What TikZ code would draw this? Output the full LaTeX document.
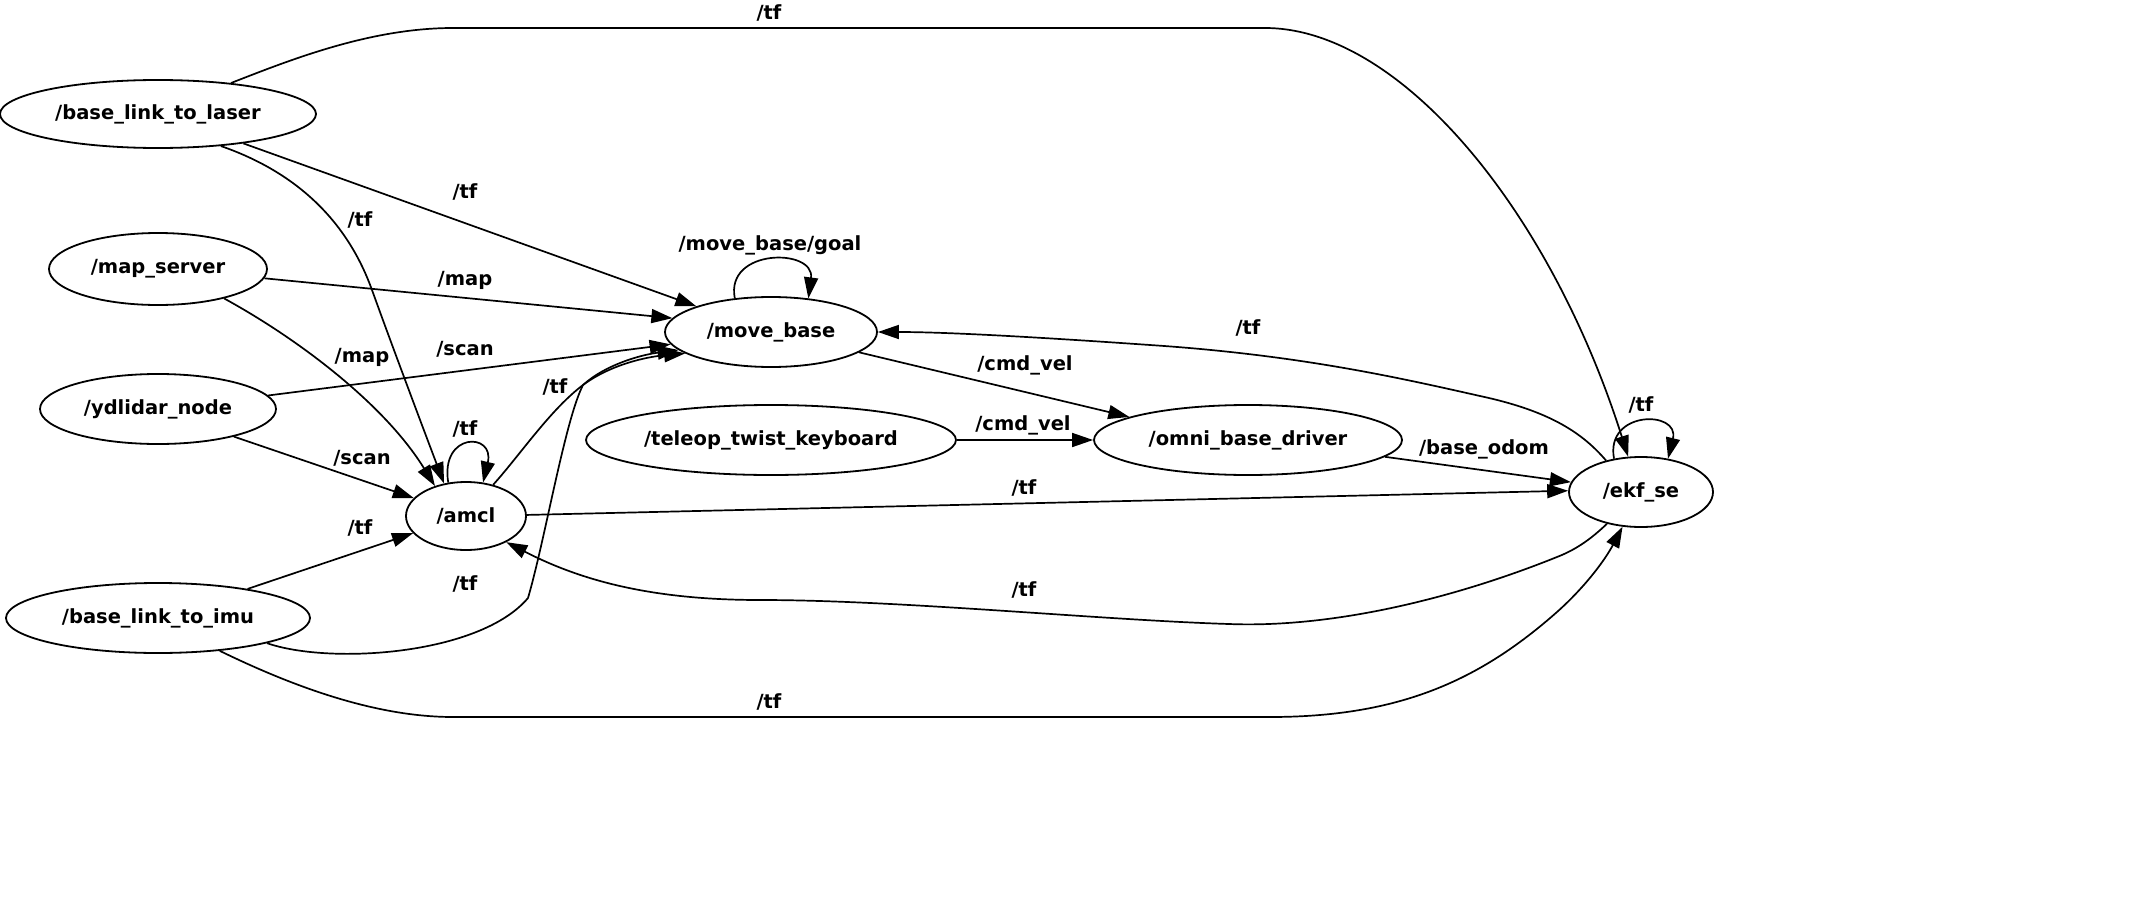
\documentclass[tikz,border=0pt]{standalone}
\usepackage{fontspec}
\setmainfont{DejaVu Sans}
\usetikzlibrary{arrows.meta,shapes.geometric}
\newcommand\gvfont{\fontsize{19.5}{23}\selectfont\bfseries}
\tikzset{
  nd/.style={ellipse, draw, line width=1.8pt, inner sep=0pt, font=\gvfont},
  lab/.style={inner sep=0pt, font=\gvfont},
  edge/.style={line width=1.7pt, -{Triangle[length=21pt,width=14pt]}}
}
\begin{document}
\begin{tikzpicture}[x=1pt,y=-1pt]
\useasboundingbox (0,0) rectangle (2142,899);
% nodes
\node[nd, minimum width=316pt, minimum height=68pt] (L) at (158,114) {/base\_link\_to\_laser};
\node[nd, minimum width=218pt, minimum height=72pt] (M) at (158,269) {/map\_server};
\node[nd, minimum width=236pt, minimum height=70pt] (Y) at (158,409) {/ydlidar\_node};
\node[nd, minimum width=304pt, minimum height=70pt] (I) at (158,618) {/base\_link\_to\_imu};
\node[nd, minimum width=120pt, minimum height=68pt] (A) at (466,516) {/amcl};
\node[nd, minimum width=212pt, minimum height=70pt] (B) at (771,332) {/move\_base};
\node[nd, minimum width=370pt, minimum height=70pt] (T) at (771,440) {/teleop\_twist\_keyboard};
\node[nd, minimum width=308pt, minimum height=70pt] (O) at (1248,440) {/omni\_base\_driver};
\node[nd, minimum width=144pt, minimum height=70pt] (E) at (1641,492) {/ekf\_se};
% edges
\draw[edge] (L.23) .. controls (290,60) and (370,28) .. (453,28) -- (1265,28) .. controls (1400,28) and (1550,210) .. (E.110);
\draw[edge] (L.-27) .. controls (290,170) and (345,215) .. (372,290) .. controls (390,340) and (420,420) .. (A.124);
\draw[edge] (L.-19) -- (B.161);
\draw[edge] (M.-5) -- (B.172);
\draw[edge] (M.-24) .. controls (300,340) and (385,405) .. (A.136);
\draw[edge] (Y.7) -- (B.187);
\draw[edge] (Y.-20) -- (A.161);
\draw[edge] (I.18) -- (A.198);
\draw[edge] (I.-13) .. controls (330,665) and (480,655) .. (528,598) .. controls (545,540) and (565,420) .. (583,385) .. controls (605,365) and (640,355) .. (B.191);
\draw[edge] (I.-28) .. controls (300,690) and (380,717) .. (453,717) -- (1270,717) .. controls (1400,717) and (1480,680) .. (1557,612) .. controls (1585,587) and (1605,560) .. (E.242);
\draw[edge] (A.49) .. controls (520,455) and (550,410) .. (583,385) .. controls (610,365) and (645,357) .. (B.194);
\draw[edge] (A.118) .. controls (440,432) and (495,432) .. (A.63);
\draw[edge] (A.1) -- (E.179);
\draw[edge] (E.223) .. controls (1590,540) and (1575,550) .. (1557,557) .. controls (1450,600) and (1330,628) .. (1229,624) .. controls (1100,620) and (900,600) .. (760,600) .. controls (650,600) and (580,580) .. (A.-33);
\draw[edge] (E.138) .. controls (1580,430) and (1545,410) .. (1480,396) .. controls (1400,378) and (1300,355) .. (1150,345) .. controls (1050,338) and (950,332) .. (B.0);
\draw[edge] (E.129) .. controls (1605,410) and (1680,410) .. (E.51);
\draw[edge] (B.137) .. controls (725,248) and (815,248) .. (B.42);
\draw[edge] (B.-13) -- (O.169);
\draw[edge] (T.east) -- (O.west);
\draw[edge] (O.-7) -- (E.172);
% labels
\node[lab] (l1) at (769,13) {/tf};
\node[lab] (l2) at (360,220) {/tf};
\node[lab] (l3) at (465,192) {/tf};
\node[lab] (l4) at (465,280) {/map};
\node[lab] (l5) at (362,357) {/map};
\node[lab] (l6) at (465,349) {/scan};
\node[lab] (l7) at (362,458) {/scan};
\node[lab] (l8) at (465,429) {/tf};
\node[lab] (l9) at (555,387) {/tf};
\node[lab] (l10) at (360,528) {/tf};
\node[lab] (l11) at (465,584) {/tf};
\node[lab] (l12) at (769,702) {/tf};
\node[lab] (l13) at (770,245) {/move\_base/goal};
\node[lab] (l14) at (1025,365) {/cmd\_vel};
\node[lab] (l15) at (1023,425) {/cmd\_vel};
\node[lab] (l16) at (1484,449) {/base\_odom};
\node[lab] (l17) at (1024,488) {/tf};
\node[lab] (l18) at (1024,590) {/tf};
\node[lab] (l19) at (1248,328) {/tf};
\node[lab] (l20) at (1641,405) {/tf};
\end{tikzpicture}
\end{document}
